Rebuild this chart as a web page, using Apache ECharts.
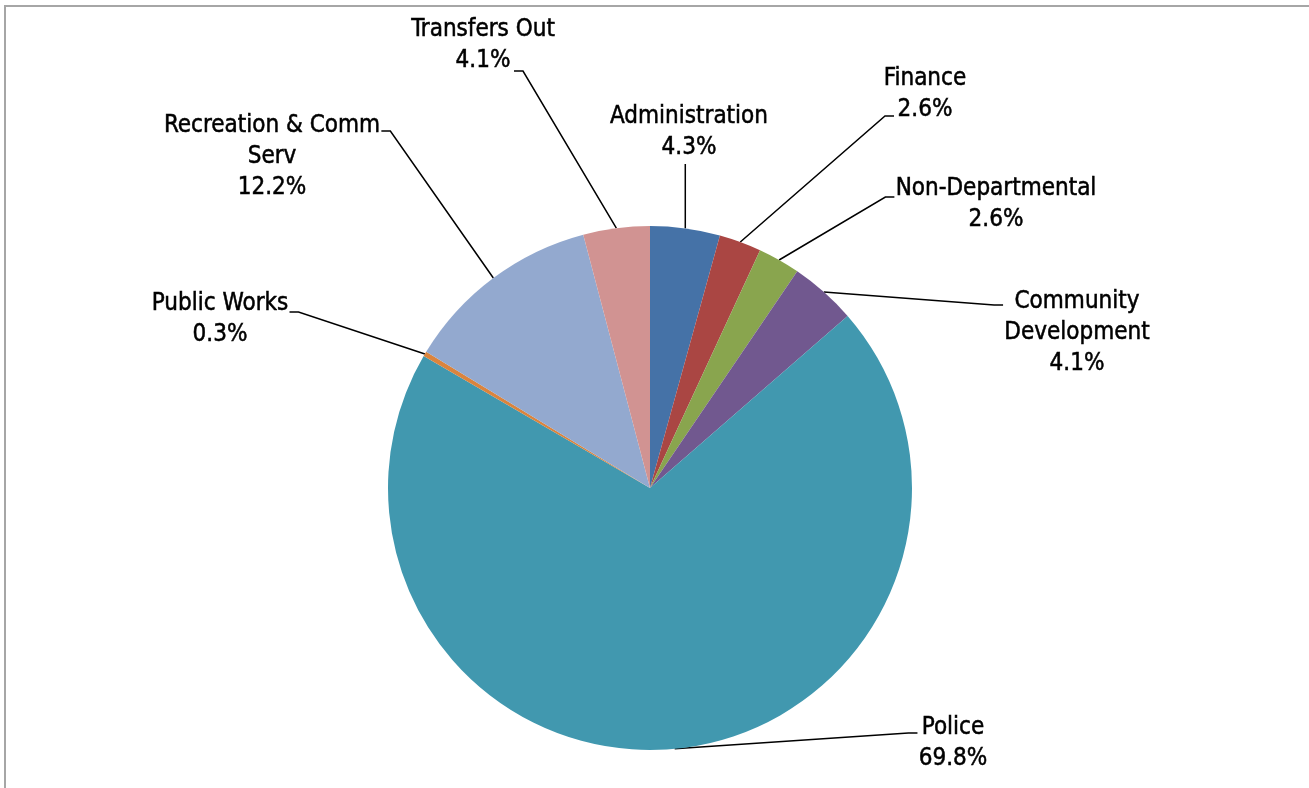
<!DOCTYPE html>
<html><head><meta charset="utf-8">
<script src="https://cdn.jsdelivr.net/npm/echarts@6/dist/echarts.min.js"></script>
<style>html,body{margin:0;padding:0;background:#fff}#c{width:1309px;height:788px}</style>
</head><body><div id="c"></div>
<script>
const categories = ['Administration','Finance','Non-Departmental','Community Development','Police','Public Works','Recreation & Comm Serv','Transfers Out'];
const labelTexts = ['Administration','Finance','Non-Departmental','Community\nDevelopment','Police','Public Works','Recreation & Comm\nServ','Transfers Out'];
const values = [4.3,2.6,2.6,4.1,69.8,0.3,12.2,4.1];
const colors = ['#4572A7','#AA4643','#89A54E','#71588F','#4198AF','#DB843D','#93A9CF','#D19392'];

// label placement (layout only): label centre and where its leader line meets it
const labelPlace = [
  {x:689, y:132, side:'bottom'},
  {x:925, y:94,  side:'left',  ly:116, ex:894},
  {x:996, y:204, side:'left',  ly:197},
  {x:1077,y:333, side:'left',  ly:305},
  {x:953, y:743, side:'left',  ly:733},
  {x:220, y:319, side:'right', ly:312},
  {x:272, y:157, side:'right', ly:131},
  {x:483, y:45,  side:'right', ly:71, ex:514}
];
const CX = 650, CY = 488, R = 262;
const total = values.reduce((a,b)=>a+b,0);
function midPoint(i){
  let acc = 0; for (let k=0;k<i;k++) acc += values[k];
  const a = (acc + values[i]/2)/total*Math.PI*2;
  return [CX + R*Math.sin(a), CY - R*Math.cos(a)];
}

const chart = echarts.init(document.getElementById('c'), null, {renderer:'canvas'});
chart.setOption({
  animation:false,
  backgroundColor:'#fff',
  graphic:[{type:'rect', shape:{x:5,y:6,width:1400,height:900}, style:{fill:'none', stroke:'#a6a6a6', lineWidth:2}, silent:true, z:-1}],
  series:[{
    type:'pie',
    center:[CX,CY],
    radius:R,
    startAngle:90,
    clockwise:true,
    avoidLabelOverlap:false,
    data: categories.map((c,i)=>({name:c, value:values[i], itemStyle:{color:colors[i]}})),
    itemStyle:{borderWidth:0},
    emphasis:{disabled:true},
    label:{
      show:true, position:'outside',
      formatter: p => labelTexts[p.dataIndex] + '\n' + values[p.dataIndex].toFixed(1) + '%',
      fontFamily:"'DejaVu Sans Condensed',sans-serif",
      fontWeight:'normal', fontSize:24, lineHeight:31, color:'#000', align:'center',
      textBorderColor:'#000', textBorderWidth:0.5
    },
    labelLine:{show:true, smooth:false, lineStyle:{color:'#000', width:1.5}},
    labelLayout: function(p){
      const lp = labelPlace[p.dataIndex];
      const s = midPoint(p.dataIndex);
      const w = p.labelRect.width, h = p.labelRect.height;
      let pts;
      if (lp.side === 'bottom') {
        const ey = lp.y + h/2 + 1;
        pts = [s, [s[0], ey], [s[0], ey]];
      } else if (lp.side === 'left') {
        const ex = lp.ex != null ? lp.ex : lp.x - w/2 - 1;
        pts = [s, [ex-9, lp.ly], [ex, lp.ly]];
      } else {
        const ex = lp.ex != null ? lp.ex : lp.x + w/2 + 1;
        pts = [s, [ex+9, lp.ly], [ex, lp.ly]];
      }
      return {x:lp.x, y:lp.y, align:'center', verticalAlign:'middle', labelLinePoints:pts, hideOverlap:false};
    }
  }]
});
</script></body></html>
